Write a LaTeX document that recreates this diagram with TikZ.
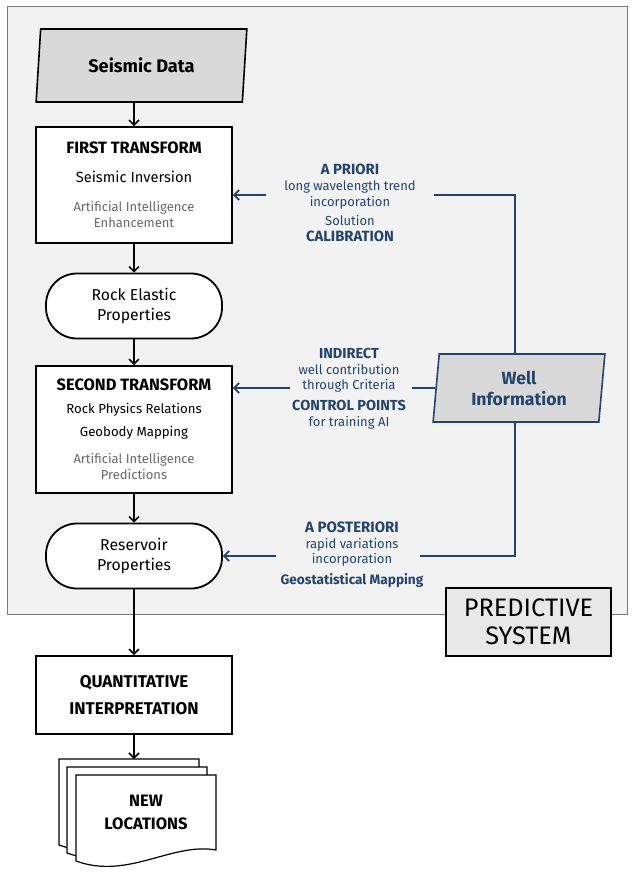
\documentclass[tikz,border=0pt]{standalone}
\usepackage{fontspec}
\setmainfont{Fira Sans}
\usetikzlibrary{arrows.meta,shapes.geometric,calc}

\definecolor{panelgray}{RGB}{242,242,242}
\definecolor{panelline}{RGB}{120,120,120}
\definecolor{iogray}{RGB}{217,217,217}
\definecolor{sysgray}{RGB}{232,232,232}
\definecolor{aigray}{RGB}{105,105,105}
\definecolor{wellblue}{RGB}{36,68,108}

% font size with a fixed 16pt line step
\newcommand{\sizeat}[1]{\fontsize{#1}{16}\selectfont}

\begin{document}
\begin{tikzpicture}[x=1pt, y=-1pt,
            box/.style={draw, line width=1.8pt, fill=white, rectangle, align=center,
                        minimum width=196pt, inner sep=0pt},
            term/.style={draw, line width=1.8pt, fill=white, rectangle, rounded corners=31pt,
                         align=center, minimum width=176pt, minimum height=65pt,
                         font=\fontsize{15.8}{20.5}\selectfont},
            io/.style={draw, line width=1.6pt, fill=iogray, trapezium, trapezium stretches=true,
                       align=center, inner sep=0pt},
            lbl/.style={align=center, text=wellblue, font=\sizeat{13}, inner sep=0pt},
            flow/.style={draw, line width=1.5pt, -{Straight Barb[length=5pt,width=10pt]}},
            feed/.style={draw=wellblue, line width=1.8pt},
            feedarrow/.style={feed, -{Straight Barb[length=5pt,width=10pt]}}]
        \useasboundingbox (0,0) rectangle (636,877);
        % predictive system panel
        \filldraw[fill=panelgray, draw=panelline, line width=1pt] (7,7) rectangle (627,614);

        \node[io, minimum width=211pt, minimum height=73pt,
              trapezium left angle=81, trapezium right angle=99,
              font=\fontsize{18.2}{20}\selectfont\bfseries] (seis) at (141.5,65.5) {Seismic Data};
        \node[box, minimum height=116pt] (first) at (134,185)
            {\sizeat{16.4}\bfseries FIRST TRANSFORM\\[17pt]
             \sizeat{14.7}Seismic Inversion\\[17pt]
             \sizeat{13}\color{aigray}Artificial Intelligence\\[2pt]
             \sizeat{13}\color{aigray}Enhancement};
        \node[term] (rock) at (134,306) {Rock Elastic\\Properties};
        \node[box, minimum height=127pt] (second) at (134,429.5)
            {\sizeat{16.4}\bfseries SECOND TRANSFORM\\[11pt]
             \sizeat{13.2}Rock Physics Relations\\[9pt]
             \sizeat{13.2}Geobody Mapping\\[13pt]
             \sizeat{13}\color{aigray}Artificial Intelligence\\[2pt]
             \sizeat{13}\color{aigray}Predictions};
        \node[term] (res) at (134,556) {Reservoir\\Properties};
        \node[box, minimum height=78pt, font=\fontsize{17}{27}\selectfont\bfseries] (qi) at (134,695)
            {QUANTITATIVE\\INTERPRETATION};

        % stack of documents
        \foreach \dx/\dy in {-17/-16, -9/-8, 0/0}
            \filldraw[fill=white, draw=black, line width=1.2pt, shift={(\dx,\dy)}]
                (76,775) -- (216,775) -- (216,850)
                .. controls (172,842) and (128,880) .. (76,861) -- cycle;
        \node[font=\fontsize{16.5}{23}\selectfont\bfseries, align=center] (newloc) at (146,812)
            {NEW\\LOCATIONS};
        \coordinate (stack) at (134,759);

        \node[draw, line width=1.6pt, fill=sysgray, minimum width=165pt, minimum height=68pt,
              align=center, font=\fontsize{25.3}{28}\selectfont] (sys) at (528.5,622) {PREDICTIVE\\SYSTEM};

        \node[io, draw=wellblue, minimum width=172pt, minimum height=68pt,
              trapezium left angle=84, trapezium right angle=96, text=wellblue,
              font=\fontsize{17.6}{21}\selectfont\bfseries] (well) at (519,388) {Well\\Information};

        % labels on the well connectors
        \node[lbl] (apriori) at (350,202.5)
            {\sizeat{14.8}\bfseries A PRIORI\\ \sizeat{13}long wavelength trend\\ incorporation\\[3pt]
             Solution\\ \sizeat{14.8}\bfseries CALIBRATION};
        \node[lbl] (indirect) at (349,388.5)
            {\sizeat{14.5}\bfseries INDIRECT\\ \sizeat{13}well contribution\\[-1pt] through Criteria\\[5pt]
             \sizeat{14.5}\bfseries CONTROL POINTS\\ \sizeat{13}for training AI};
        \node[lbl] (posteriori) at (352,555)
            {\sizeat{15}\bfseries A POSTERIORI\\ \sizeat{13}rapid variations\\[-1pt] incorporation\\[5pt]
             \sizeat{13.6}\bfseries Geostatistical Mapping};

        \coordinate (wellx) at (515,388);
        \coordinate (aprR) at (434,195);
        \coordinate (aprL) at (266,195);
        \coordinate (indR) at (412,388);
        \coordinate (indL) at (290,388);
        \coordinate (posR) at (420,556);
        \coordinate (posL) at (276,556);

        % main flow
        \path[flow] (first.north |- seis.south) -- (first.north);
        \path[flow] (first) -- (rock);
        \path[flow] (rock) -- (second);
        \path[flow] (second) -- (res);
        \path[flow] (res) -- (qi);
        \path[flow] (qi) -- (stack);

        % well information feeds
        \path[feed] (wellx |- well.north) |- (aprR);
        \path[feedarrow] (aprL) -- (first.east |- aprL);
        \path[feed] (well.west) -- (indR);
        \path[feedarrow] (indL) -- (second.east |- indL);
        \path[feed] (wellx |- well.south) |- (posR);
        \path[feedarrow] (posL) -- (res.east |- posL);
\end{tikzpicture}
\end{document}
